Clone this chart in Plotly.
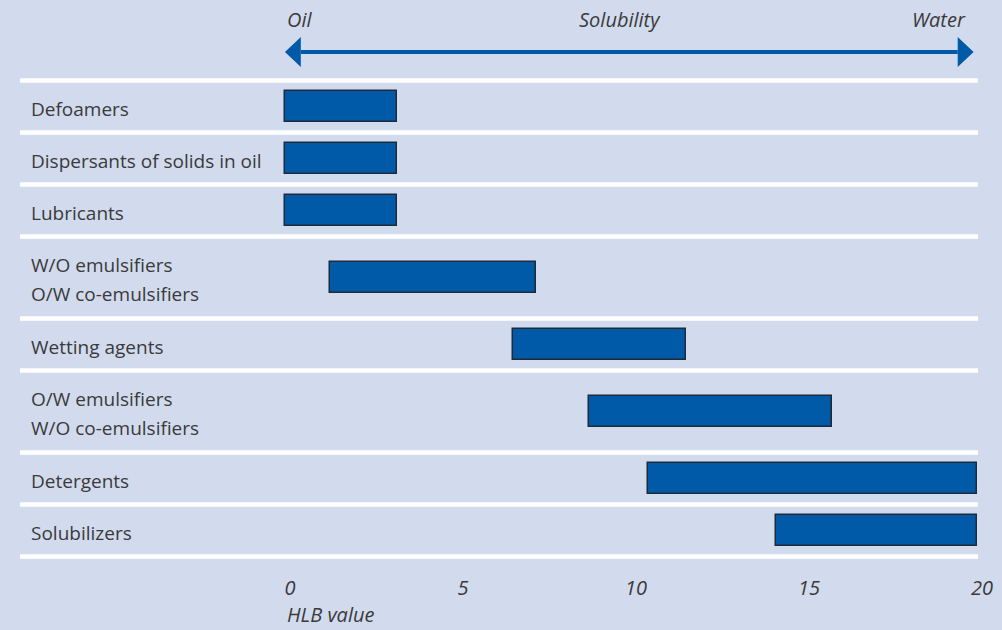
import plotly.graph_objects as go

# ---- data ----
categories = [
    "Defoamers",
    "Dispersants of solids in oil",
    "Lubricants",
    "W/O emulsifiers<br>O/W co-emulsifiers",
    "Wetting agents",
    "O/W emulsifiers<br>W/O co-emulsifiers",
    "Detergents",
    "Solubilizers",
]
hlb_low = [0, 0, 0, 1.3, 6.6, 8.8, 10.5, 14.2]
hlb_high = [3.25, 3.25, 3.25, 7.25, 11.6, 15.8, 20, 20]
tick_values = [0, 5, 10, 15, 20]
tick_labels = ["0", "5", "10", "15", "20"]
axis_title = "HLB value"
top_labels = ["Oil", "Solubility", "Water"]

# ---- styling ----
BG = "#d2dbed"
BAR = "#005aa8"
BAR_EDGE = "#1d2a3a"
TXT = "#3a3a3a"
FONT = "Open Sans"

# row layout (in pixel-like units on y axis): taller rows for two-line labels
n_lines = [c.count("<br>") + 1 for c in categories]
heights = [22 + 30 * n for n in n_lines]
bounds = [0]
for h in heights:
    bounds.append(bounds[-1] + h)
centers = [(bounds[i] + bounds[i + 1]) / 2 for i in range(len(categories))]

fig = go.Figure()
fig.add_trace(go.Bar(
    y=centers,
    x=[hi - lo for lo, hi in zip(hlb_low, hlb_high)],
    base=hlb_low,
    orientation="h",
    width=31,
    marker=dict(color=BAR, line=dict(color=BAR_EDGE, width=1.5)),
    hoverinfo="skip",
    showlegend=False,
))

W, H = 1002, 630
ML, MR, MT, MB = 278, 18, 0, 60
plot_w = W - ML - MR

def px_to_paper_x(px):
    return (px - ML) / plot_w

shapes = []
# white separators
for b in bounds:
    shapes.append(dict(type="line", xref="paper", yref="y",
                       x0=px_to_paper_x(20), x1=px_to_paper_x(978), y0=b, y1=b,
                       line=dict(color="white", width=4.5), layer="below"))

# double-headed solubility arrow
ay = -28.5
head_len = 0.46
head_half = 15
x_left, x_right = 0, 19.9
shapes.append(dict(type="line", xref="x", yref="y",
                   x0=x_left + head_len, x1=x_right - head_len, y0=ay, y1=ay,
                   line=dict(color=BAR, width=4)))
shapes.append(dict(type="path", xref="x", yref="y",
                   path=f"M {x_left},{ay} L {x_left + head_len},{ay - head_half} L {x_left + head_len},{ay + head_half} Z",
                   fillcolor=BAR, line=dict(width=0)))
shapes.append(dict(type="path", xref="x", yref="y",
                   path=f"M {x_right},{ay} L {x_right - head_len},{ay - head_half} L {x_right - head_len},{ay + head_half} Z",
                   fillcolor=BAR, line=dict(width=0)))

annotations = []
# row labels (each line placed separately for line spacing)
for c, yc in zip(categories, centers):
    lines = c.split("<br>")
    k = len(lines)
    for j, ln in enumerate(lines):
        annotations.append(dict(
            text=ln, xref="paper", yref="y",
            x=px_to_paper_x(29), y=yc + 2 + (j - (k - 1) / 2) * 29.5,
            xanchor="left", yanchor="middle", showarrow=False,
            font=dict(family=FONT, size=19, color=TXT)))

# top labels
top_pos = [(0, "left"), (9.68, "center"), (19.74, "right")]
for t, (xp, anc) in zip(top_labels, top_pos):
    annotations.append(dict(
        text=f"<i>{t}</i>", xref="x", yref="y", x=xp, y=-61.5,
        xanchor=anc, yanchor="middle", showarrow=False,
        font=dict(family=FONT, size=20, color=TXT)))

# axis title
annotations.append(dict(
    text=f"<i>{axis_title}</i>", xref="x", yref="paper", x=0,
    y=(H - MB - 614) / (H - MT - MB), xanchor="left", yanchor="middle",
    showarrow=False, font=dict(family=FONT, size=20, color=TXT)))

fig.update_layout(
    width=W, height=H,
    margin=dict(l=ML, r=MR, t=MT, b=MB),
    paper_bgcolor=BG, plot_bgcolor=BG,
    shapes=shapes, annotations=annotations,
    xaxis=dict(range=[-0.2, 20.2], tickvals=tick_values,
               ticktext=[f"<i>{t}</i>" for t in tick_labels],
               showgrid=False, zeroline=False, showline=False, ticks="",
               ticklabelshift=5, ticklabelstandoff=4,
               tickfont=dict(family=FONT, size=20, color=TXT), fixedrange=True),
    yaxis=dict(range=[489.5, -80.5], showticklabels=False, showgrid=False,
               zeroline=False, showline=False, ticks="", fixedrange=True),
    bargap=0,
)

fig.write_html(
    "out.html",
    config={"displayModeBar": False},
    post_script="document.body.style.margin='0';document.body.style.background='" + BG + "';",
)
